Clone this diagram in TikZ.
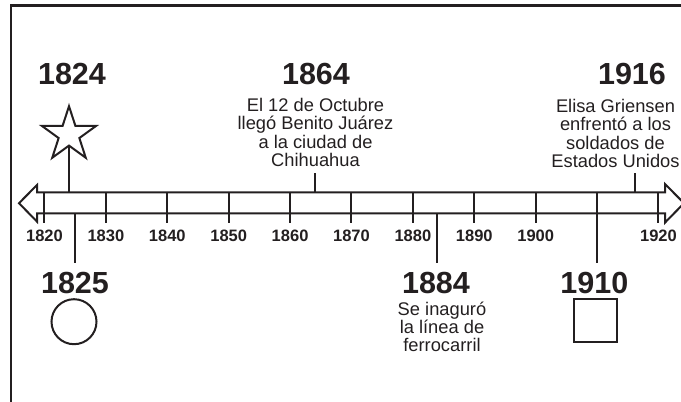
\documentclass[tikz,border=0pt]{standalone}
\usepackage{fontspec}
\setmainfont{Liberation Sans}
\usetikzlibrary{shapes.geometric}
\definecolor{ink}{HTML}{231F20}
\begin{document}
\begin{tikzpicture}[x=1pt,y=-1pt,
  line join=miter,
  ink lines/.style={draw=ink,line width=2pt},
  bigyear/.style={inner sep=0pt,anchor=base,text=ink,font=\fontsize{30.5}{30.5}\selectfont\bfseries},
  ticklabel/.style={inner sep=0pt,anchor=base,text=ink,font=\fontsize{16.5}{16.5}\selectfont\bfseries},
  desc/.style={inner sep=0pt,anchor=north,align=center,text=ink,font=\fontsize{18.3}{18.2}\selectfont},
  tickline/.style={ink lines},
  connector/.style={ink lines},
]
\useasboundingbox (0,0) rectangle (681,402);
% frame
\draw[draw=ink,line width=2.6pt] (10.8,405) -- (10.8,5.3) -- (685,5.3);
% double arrow band
\draw[ink lines] (19,203.2) -- (37,185) -- (37,192.3) -- (665,192.3) -- (665,184)
  -- (684,203.2) -- (665,222.6) -- (665,213.3) -- (37,213.3) -- (37,221.6) -- cycle;
% ticks and tick labels
\foreach \yr/\k in {1820/0,1830/1,1840/2,1850/3,1860/4,1870/5,1880/6,1890/7,1900/8,1920/10}{
  \coordinate (t\yr a) at ({44.3+61.4*\k},192.3);
  \coordinate (t\yr b) at ({44.3+61.4*\k},223);
  \draw[tickline] (t\yr a) -- (t\yr b);
  \node[ticklabel] (l\yr) at ({44.5+61.4*\k},241.7) {\yr};
}
% event 1824
\node[bigyear] (y1824) at (72,84) {1824};
\node[star,star points=5,star point ratio=2.618,minimum size=57pt,inner sep=0pt,
      draw=ink,line width=2pt] (star) at (69,134.7) {};
\coordinate (c1824) at (69,192.3);
\draw[connector] (star.south) -- (c1824);
% event 1864
\node[bigyear] (y1864) at (316,84.3) {1864};
\node[desc] (d1864) at (315.5,98.3) {El 12 de Octubre\\llegó Benito Juárez\\a la ciudad de\\Chihuahua};
\coordinate (c1864a) at (315,173);
\coordinate (c1864b) at (315,192.3);
\draw[connector] (c1864a) -- (c1864b);
% event 1916
\node[bigyear] (y1916) at (632,84) {1916};
\node[desc] (d1916) at (615.5,99.3) {Elisa Griensen\\enfrentó a los\\soldados de\\Estados Unidos};
\coordinate (c1916a) at (634.5,173);
\coordinate (c1916b) at (634.5,192.3);
\draw[connector] (c1916a) -- (c1916b);
% event 1825
\coordinate (c1825a) at (75,213.3);
\coordinate (c1825b) at (75,263);
\draw[connector] (c1825a) -- (c1825b);
\node[bigyear] (y1825) at (75,293.3) {1825};
\node[circle,draw=ink,line width=2pt,minimum size=45pt,inner sep=0pt] (circ) at (74,321.7) {};
% event 1884
\coordinate (c1884a) at (437.3,213.3);
\coordinate (c1884b) at (437.3,263);
\draw[connector] (c1884a) -- (c1884b);
\node[bigyear] (y1884) at (436,293.3) {1884};
\node[desc] (d1884) at (442,301.7) {Se inaguró\\la línea de\\ferrocarril};
% event 1910
\coordinate (c1910a) at (596.7,192.3);
\coordinate (c1910b) at (596.7,263);
\draw[connector] (c1910a) -- (c1910b);
\node[bigyear] (y1910) at (594.3,293.3) {1910};
\node[rectangle,draw=ink,line width=2pt,minimum size=42.5pt,inner sep=0pt] (sq) at (595.5,320.7) {};
\end{tikzpicture}
\end{document}
